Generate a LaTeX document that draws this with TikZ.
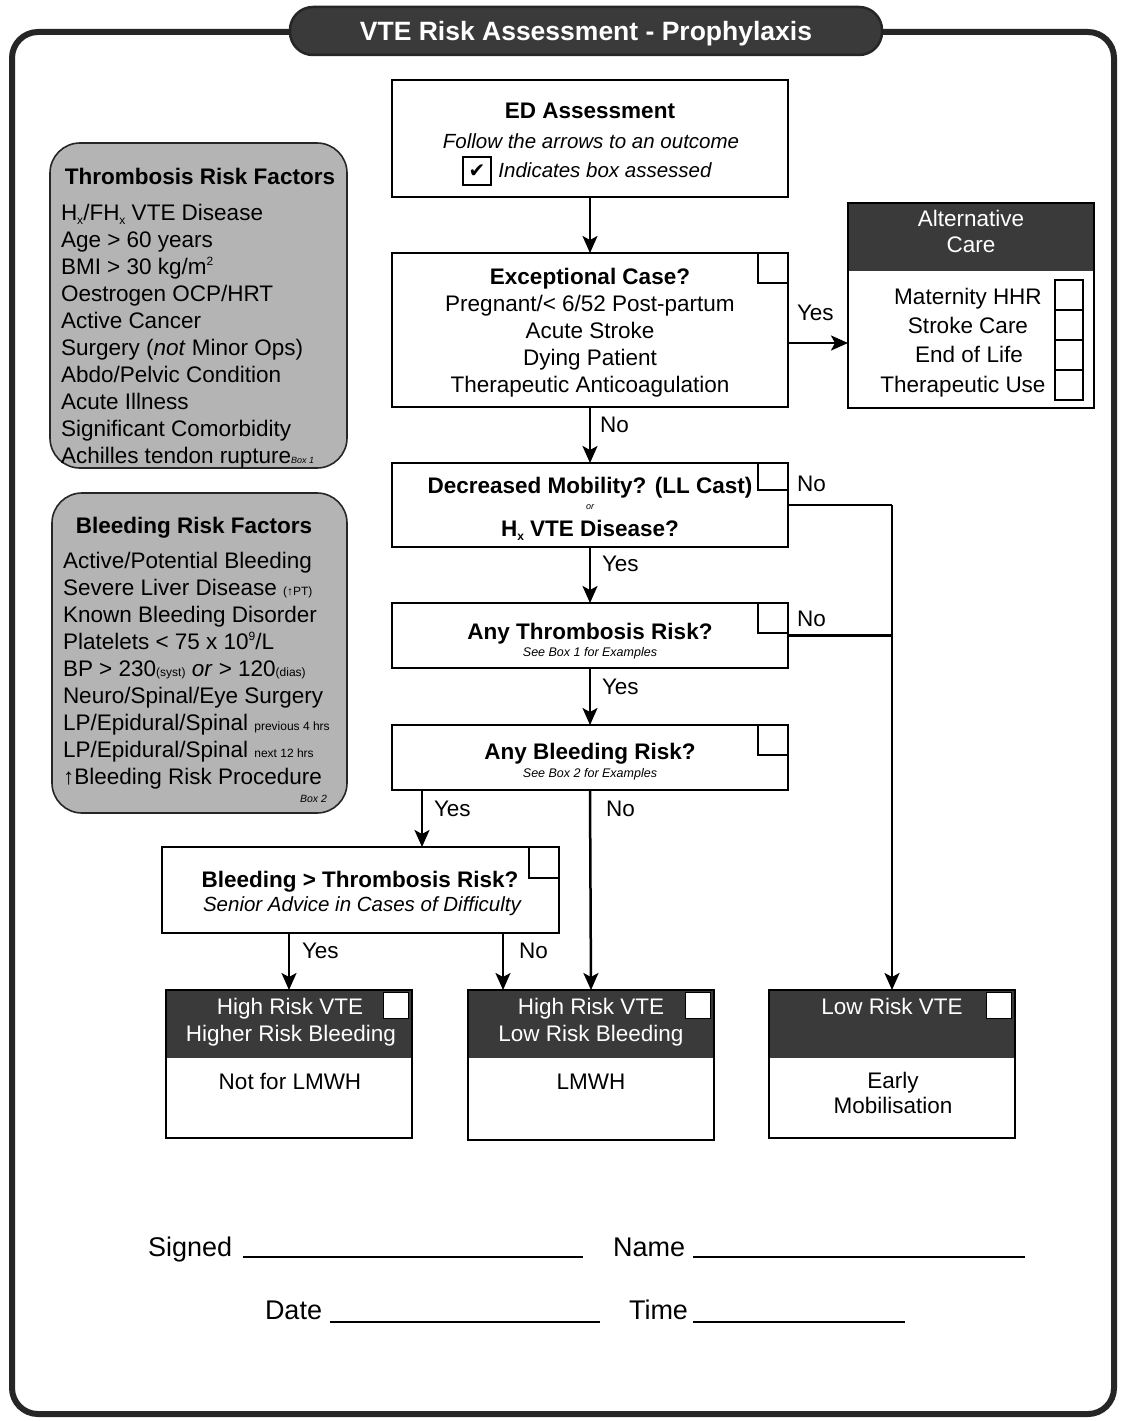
\documentclass[tikz,border=0pt]{standalone}
\usepackage{fontspec}
\setmainfont{Liberation Sans}
\newfontfamily\symfont{DejaVu Sans}
\usetikzlibrary{arrows.meta,calc}
\definecolor{darkhead}{HTML}{3A3A3A}
\definecolor{panelgray}{HTML}{B4B4B4}
\definecolor{framecol}{HTML}{262626}
\newcommand\lsub[1]{\raisebox{-0.35ex}{\fontsize{12}{12}\selectfont #1}}
\newcommand\lsup[1]{\raisebox{0.75ex}{\fontsize{12}{12}\selectfont #1}}
\newcommand\tinytxt[1]{{\fontsize{12}{12}\selectfont #1}}
\tikzset{
  every node/.style={inner sep=0pt, outer sep=0pt},
  t/.style={anchor=base, font=\fontsize{22.5}{26}\selectfont},
  tl/.style={anchor=base west, font=\fontsize{22.5}{26}\selectfont},
  tb/.style={anchor=base, font=\fontsize{22.5}{26}\selectfont\bfseries},
  ti/.style={anchor=base, font=\fontsize{20.5}{24}\selectfont\itshape},
  tw/.style={anchor=base, text=white, font=\fontsize{22.5}{26}\selectfont},
  tsm/.style={anchor=base, font=\fontsize{12.5}{13}\selectfont\itshape},
  tsig/.style={anchor=base west, font=\fontsize{27}{30}\selectfont},
  flowbox/.style={draw=black, line width=2pt, fill=white, anchor=north west},
  cbox/.style={draw=black, line width=2pt, anchor=north east, minimum width=30pt, minimum height=30pt},
  wbox/.style={fill=white, draw=black, line width=0.8pt, anchor=north east, minimum width=25pt, minimum height=26pt},
  panel/.style={draw=black!85, line width=1.6pt, fill=panelgray, rounded corners=30pt, anchor=north west},
  conn/.style={line width=2.5pt, -{Stealth[length=17pt,width=15pt,inset=4pt]}},
  plain/.style={line width=2.5pt},
  sig/.style={line width=1.2pt},
}
\begin{document}
\begin{tikzpicture}[x=1pt,y=-1pt]
\useasboundingbox (0,0) rectangle (1127,1421);
\fill[white] (0,0) rectangle (1127,1421);

% outer frame and title
\draw[line width=6pt, framecol, rounded corners=26pt] (12,32) rectangle (1114,1414);
\node[fill=darkhead, draw=framecol, line width=2.5pt, rounded corners=23pt, minimum width=592pt, minimum height=48pt] (title) at (586,31) {};
\node[anchor=base, text=white, font=\fontsize{26.5}{30}\selectfont\bfseries] (titlet) at (586,41) {VTE Risk Assessment - Prophylaxis};

% left panels
\node[panel, minimum width=297pt, minimum height=325pt] (tpanel) at (50,143) {};
\node[tb] (tpt) at (200,184) {Thrombosis Risk Factors};
\foreach \txt [count=\i from 0] in {
  {H\lsub{x}/FH\lsub{x} VTE Disease},
  {Age > 60 years},
  {BMI > 30 kg/m\lsup{2}},
  {Oestrogen OCP/HRT},
  {Active Cancer},
  {Surgery (\textit{not} Minor Ops)},
  {Abdo/Pelvic Condition},
  {Acute Illness},
  {Significant Comorbidity},
  {Achilles tendon rupture{\fontsize{9}{9}\selectfont\textit{Box 1}}}}
  \node[tl] (tr\i) at (61,{220+27*\i}) {\txt};

\node[panel, minimum width=295pt, minimum height=320pt] (bpanel) at (52,493) {};
\node[tb] (bpt) at (194,533) {Bleeding Risk Factors};
\foreach \txt [count=\i from 0] in {
  {Active/Potential Bleeding},
  {Severe Liver Disease \tinytxt{(↑PT)}},
  {Known Bleeding Disorder},
  {Platelets < 75 x 10\lsup{9}/L},
  {BP > 230\tinytxt{(syst)} \textit{or} > 120\tinytxt{(dias)}},
  {Neuro/Spinal/Eye Surgery},
  {LP/Epidural/Spinal \tinytxt{previous 4 hrs}},
  {LP/Epidural/Spinal \tinytxt{next 12 hrs}},
  {↑Bleeding Risk Procedure}}
  \node[tl] (br\i) at (63,{568+27*\i}) {\txt};
\node[anchor=base east, font=\fontsize{10.5}{10}\selectfont\itshape] (box2) at (327,802) {Box 2};

% ED assessment
\node[flowbox, minimum width=396pt, minimum height=117pt] (ed) at (392,80) {};
\node[tb] (edt1) at (590,118) {ED Assessment};
\node[ti] (edt2) at (591,148) {Follow the arrows to an outcome};
\node[draw=black, line width=2pt, minimum width=28pt, minimum height=28pt, font=\symfont\fontsize{20}{20}\selectfont] (chk) at (477,171) {✔};
\node[ti] (edt3) at (605,177) {Indicates box assessed};

% exceptional case
\node[flowbox, minimum width=396pt, minimum height=154pt] (exc) at (392,253) {};
\node[cbox] (excc) at (exc.north east) {};
\node[tb] (exct1) at (590,284) {Exceptional Case?};
\node[t] (exct2) at (590,311) {Pregnant/< 6/52 Post-partum};
\node[t] (exct3) at (590,338) {Acute Stroke};
\node[t] (exct4) at (590,365) {Dying Patient};
\node[t] (exct5) at (590,392) {Therapeutic Anticoagulation};

% alternative care
\node[flowbox, minimum width=246pt, minimum height=205pt] (alt) at (848,203) {};
\fill[darkhead] (alt.north west) rectangle ($(alt.north east)+(0,68)$);
\draw[line width=2pt] (alt.north west) rectangle (alt.south east);
\node[tw] (altt1) at (971,226) {Alternative};
\node[tw] (altt2) at (971,252) {Care};
\node[t] (alti1) at (968,304) {Maternity HHR};
\node[t] (alti2) at (968,333) {Stroke Care};
\node[t] (alti3) at (969,362) {End of Life};
\node[t] (alti4) at (963,392) {Therapeutic Use};
\foreach \k in {0,1,2,3}
  \node[draw=black, line width=1.3pt, minimum width=28pt, minimum height=30pt, anchor=north west] (altc\k) at (1055,{280+30*\k}) {};

% decreased mobility
\node[flowbox, minimum width=396pt, minimum height=84pt] (mob) at (392,463) {};
\node[cbox, minimum height=27pt] (mobc) at (mob.north east) {};
\node[tb] (mobt1) at (590,493) {Decreased Mobility? (LL Cast)};
\node[anchor=base, font=\fontsize{9}{10}\selectfont\itshape] (mobt2) at (590,509) {or};
\node[tb] (mobt3) at (590,536) {H\lsub{x} VTE Disease?};

% thrombosis risk
\node[flowbox, minimum width=396pt, minimum height=65pt] (thr) at (392,603) {};
\node[cbox] (thrc) at (thr.north east) {};
\node[tb] (thrt1) at (590,639) {Any Thrombosis Risk?};
\node[tsm] (thrt2) at (590,656) {See Box 1 for Examples};

% bleeding risk
\node[flowbox, minimum width=396pt, minimum height=65pt] (bld) at (392,725) {};
\node[cbox] (bldc) at (bld.north east) {};
\node[tb] (bldt1) at (590,759) {Any Bleeding Risk?};
\node[tsm] (bldt2) at (590,777) {See Box 2 for Examples};

% bleeding > thrombosis
\node[flowbox, minimum width=397pt, minimum height=86pt] (bvt) at (162,847) {};
\node[cbox, minimum height=31pt] (bvtc) at (bvt.north east) {};
\node[tb] (bvtt1) at (360,887) {Bleeding > Thrombosis Risk?};
\node[ti] (bvtt2) at (362,911) {Senior Advice in Cases of Difficulty};

% outcome boxes
\node[flowbox, minimum width=246pt, minimum height=148pt] (hh) at (166,990) {};
\node[flowbox, minimum width=246pt, minimum height=150pt] (hl) at (468,990) {};
\node[flowbox, minimum width=246pt, minimum height=148pt] (low) at (769,990) {};
\foreach \b in {hh,hl,low}{
  \fill[darkhead] (\b.north west) rectangle ($(\b.north east)+(0,68)$);
  \draw[line width=2pt] (\b.north west) rectangle (\b.south east);
  \node[wbox] (\b c) at ($(\b.north east)+(-4,2)$) {};
}
\node[tw] (hht1) at (290,1014) {High Risk VTE};
\node[tw] (hht2) at (291,1041) {Higher Risk Bleeding};
\node[t] (hht3) at (290,1089) {Not for LMWH};
\node[tw] (hlt1) at (591,1014) {High Risk VTE};
\node[tw] (hlt2) at (591,1041) {Low Risk Bleeding};
\node[t] (hlt3) at (591,1089) {LMWH};
\node[tw] (lowt1) at (892,1014) {Low Risk VTE};
\node[t] (lowt2) at (893,1088) {Early};
\node[t] (lowt3) at (893,1113) {Mobilisation};

% connectors
\draw[conn] (ed.south) -- (exc.north);
\coordinate (ya) at ([yshift=-13pt]exc.east);
\draw[conn] (ya) -- (ya -| alt.west);
\node[tl] (lyes1) at (797,320) {Yes};
\draw[conn] (exc.south) -- (mob.north);
\node[tl] (lno1) at (600,432) {No};
\draw[conn] (mob.south) -- (thr.north);
\node[tl] (lyes2) at (602,571) {Yes};
\draw[conn] (thr.south) -- (bld.north);
\node[tl] (lyes3) at (602,694) {Yes};
\coordinate (mobno) at (mob.east -| low.north);
\draw[plain] (mob.east) -- (mobno);
\draw[conn] (mobno) -- (low.north);
\draw[plain] (thr.east) -- (thr.east -| low.north);
\node[tl] (lno2) at (797,491) {No};
\node[tl] (lno3) at (797,626) {No};
\coordinate (byes) at ([xshift=30pt]bld.south west);
\draw[conn] (byes) -- (byes |- bvt.north);
\node[tl] (lyes4) at (434,816) {Yes};
\draw[conn] (bld.south) -- (hl.north);
\node[tl] (lno4) at (606,816) {No};
\coordinate (bvyes) at (bvt.south -| hh.north);
\draw[conn] (bvyes) -- (hh.north);
\node[tl] (lyes5) at (302,958) {Yes};
\coordinate (bvno) at ([xshift=-56pt]bvt.south east);
\draw[conn] (bvno) -- (bvno |- hl.north);
\node[tl] (lno5) at (519,958) {No};

% signatures
\node[tsig] (signed) at (148,1256) {Signed};
\coordinate (s1a) at (243,1257); \coordinate (s1b) at (583,1257);
\draw[sig] (s1a) -- (s1b);
\node[tsig] (name) at (613,1256) {Name};
\coordinate (s2a) at (693,1257); \coordinate (s2b) at (1025,1257);
\draw[sig] (s2a) -- (s2b);
\node[tsig] (date) at (265,1319) {Date};
\coordinate (s3a) at (330,1322); \coordinate (s3b) at (600,1322);
\draw[sig] (s3a) -- (s3b);
\node[tsig] (time) at (629,1319) {Time};
\coordinate (s4a) at (693,1322); \coordinate (s4b) at (905,1322);
\draw[sig] (s4a) -- (s4b);
\end{tikzpicture}
\end{document}
